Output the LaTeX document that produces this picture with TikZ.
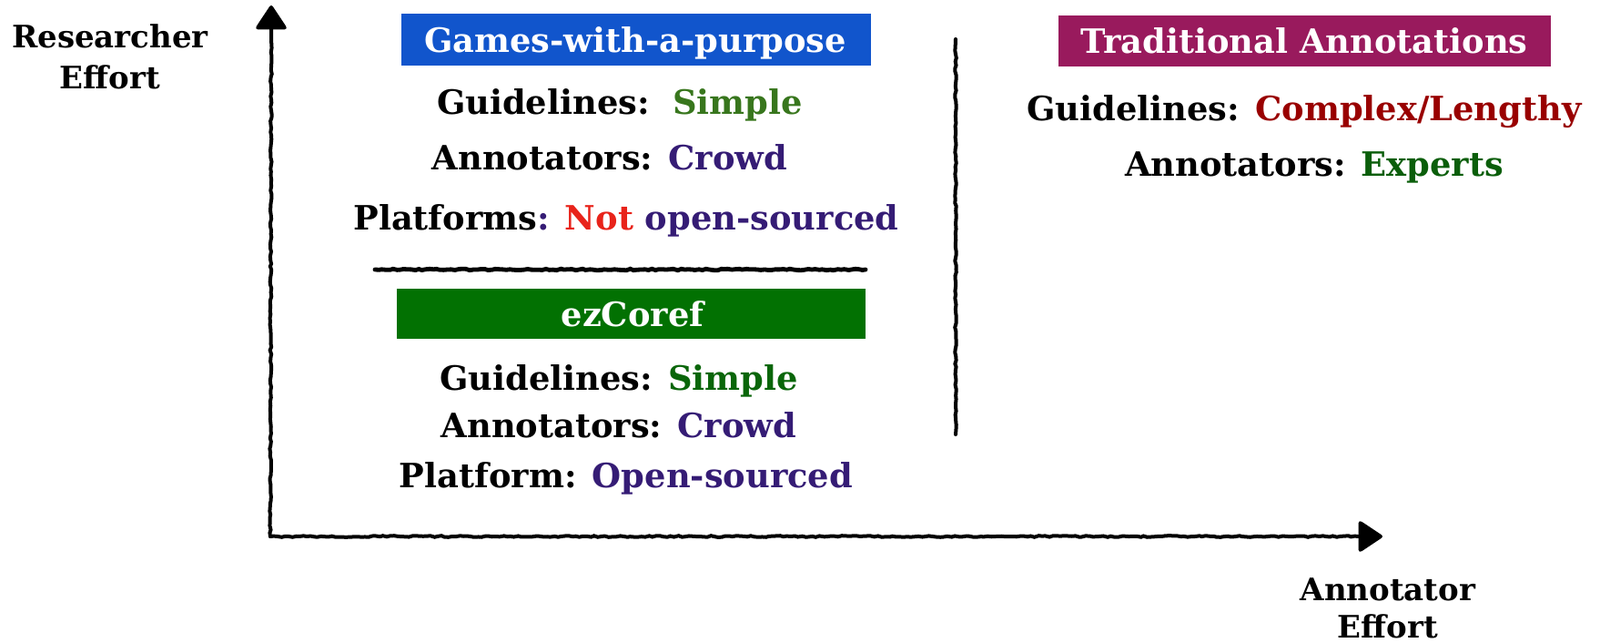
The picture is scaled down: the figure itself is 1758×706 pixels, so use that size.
\documentclass[tikz,border=0pt]{standalone}
\usepackage{fontspec}
\setmainfont{DejaVu Serif}
\usetikzlibrary{arrows.meta,decorations.pathmorphing}
\definecolor{gblue}{HTML}{1155CC}
\definecolor{tmag}{HTML}{991A5D}
\definecolor{egreen}{HTML}{027102}
\definecolor{simpleg}{HTML}{38761D}
\definecolor{simpleh}{HTML}{0A660A}
\definecolor{expg}{HTML}{0B5E0B}
\definecolor{crowdp}{HTML}{351C75}
\definecolor{notred}{HTML}{E8231A}
\definecolor{cxred}{HTML}{990000}
\begin{document}
\begin{tikzpicture}[x=0.5pt,y=-0.5pt,
  txt/.style={anchor=base,inner sep=0pt,font=\fontsize{18.4pt}{22pt}\selectfont\bfseries},
  axlab/.style={anchor=base,inner sep=0pt,font=\fontsize{17pt}{20pt}\selectfont\bfseries},
  ttl/.style={txt,text=white},
  rough/.style={line width=2pt,line cap=round,decorate,decoration={random steps,segment length=2pt,amplitude=0.4pt}},
  tiphead/.style={line width=2pt,-{Triangle[length=14pt,width=18pt,round]}},
]
\useasboundingbox (0,0) rectangle (1758,706);
% axes
\coordinate (o) at (297,589);
\coordinate (yb) at (298,32);
\coordinate (yt) at (298,6);
\coordinate (xb) at (1492,589);
\coordinate (xt) at (1519,589);
\draw[rough] (o) -- (yb);
\draw[tiphead] (yb) -- (yt);
\draw[rough] (o) -- (xb);
\draw[tiphead] (xb) -- (xt);
% separators
\coordinate (h1) at (412,296);
\coordinate (h2) at (951,296);
\draw[rough,line width=2.4pt] (h1) -- (h2);
\coordinate (v1) at (1050,43);
\coordinate (v2) at (1050,477);
\draw[rough] (v1) -- (v2);
% axis labels
\node[axlab] (r1) at (121,53) {Researcher};
\node[axlab] (r2) at (121,98) {Effort};
\node[axlab] (a1) at (1525,659) {Annotator};
\node[axlab] (a2) at (1525,700) {Effort};
% boxes
\fill[gblue] (441,15) rectangle (957,72);
\fill[egreen] (436,317) rectangle (951,372);
\fill[tmag] (1163,17) rectangle (1704,73);
\node[ttl] (gt) at (698,58) {Games-with-a-purpose};
\node[ttl] (et) at (695,358) {ezCoref};
\node[ttl] (tt) at (1433,59) {Traditional Annotations};
% games
\node[txt] (g1) at (681,126) {Guidelines:\ \ \textcolor{simpleg}{Simple}};
\node[txt] (g2) at (670,187) {Annotators: \textcolor{crowdp}{Crowd}};
\node[txt] (g3) at (688,252) {Platforms\textcolor{crowdp}{:} \textcolor{notred}{Not} \textcolor{crowdp}{open-sourced}};
% ezcoref
\node[txt] (e1) at (680,428) {Guidelines: \textcolor{simpleh}{Simple}};
\node[txt] (e2) at (680,480) {Annotators: \textcolor{crowdp}{Crowd}};
\node[txt] (e3) at (688,535) {Platform: \textcolor{crowdp}{Open-sourced}};
% traditional
\node[txt] (t1) at (1433,133) {Guidelines: \textcolor{cxred}{Complex/Lengthy}};
\node[txt] (t2) at (1444,193) {Annotators: \textcolor{expg}{Experts}};
\end{tikzpicture}
\end{document}
